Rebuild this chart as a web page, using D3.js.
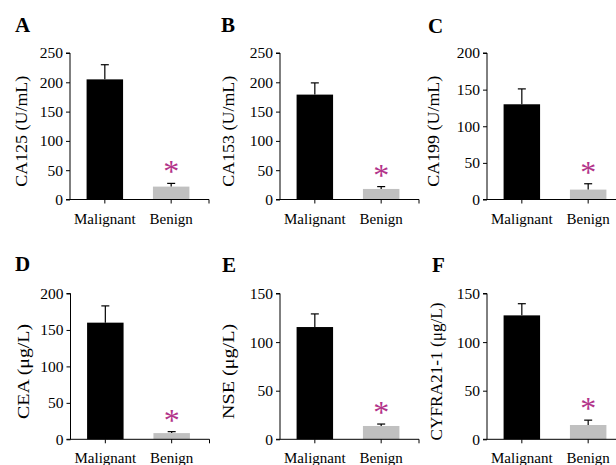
<!DOCTYPE html>
<html>
<head>
<meta charset="utf-8">
<script src="https://cdn.jsdelivr.net/npm/d3@7"></script>
<style>
	html, body { margin: 0; padding: 0; background: #fff; }
	svg text { font-family: "Liberation Serif", "Times New Roman", serif; fill: #000; }
</style>
</head>
<body>
<svg id="chart" width="616" height="465"></svg>
<script>
// chart values
var panelLetters = ["A", "B", "C", "D", "E", "F"];
var categories = ["Malignant", "Benign"];
var yTitles = ["CA125 (U/mL)", "CA153 (U/mL)", "CA199 (U/mL)", "CEA (\u03bcg/L)", "NSE (\u03bcg/L)", "CYFRA21-1 (\u03bcg/L)"];
var malignantMean = [205, 179, 130, 160, 115.5, 127.5];
var malignantErr = [25, 20, 21, 23, 13.5, 12];
var benignMean = [22, 18, 13.5, 8.5, 13.7, 14.7];
var benignErr = [5.5, 4, 8, 2, 2, 5];
var yMax = [250, 250, 200, 200, 150, 150];
var yTickStep = [50, 50, 50, 50, 50, 50];

// layout of the six panels
var axisX = [70, 280, 487, 70.5, 280, 487];
var rowZero = [199.5, 439.3];
var rowTop = [53, 293.5];
var titleLen = [111, 111, 111, 95, 95, 138];
var titleOff = [48, 51, 53, 47, 51, 50];
var letterX = [15, 221, 428, 15, 222, 432];
var letterY = [32, 32, 33, 271, 271.5, 272];

var svg = d3.select("#chart");

panelLetters.forEach(function (letter, i) {
	var row = i < 3 ? 0 : 1;
	var x0 = axisX[i];
	var g = svg.append("g");

	var y = d3.scaleLinear().domain([0, yMax[i]]).range([rowZero[row], rowTop[row]]);
	var x = d3.scaleBand().domain(categories).range([x0, x0 + 136])
		.paddingInner(0.45).paddingOuter(0.25);

	var means = [malignantMean[i], benignMean[i]];
	var errs = [malignantErr[i], benignErr[i]];
	var data = categories.map(function (c, k) { return {cat: c, v: means[k], e: errs[k]}; });

	// bars
	g.selectAll("rect.bar").data(data).enter().append("rect")
		.attr("class", "bar")
		.attr("x", function (d) { return x(d.cat); })
		.attr("width", x.bandwidth())
		.attr("y", function (d) { return y(d.v); })
		.attr("height", function (d) { return y(0) - y(d.v); })
		.style("fill", function (d, k) { return k == 0 ? "#000" : "#c0c0c0"; });

	// upper error bars only
	var eb = g.selectAll("g.err").data(data).enter().append("g").attr("class", "err");
	eb.append("line")
		.attr("x1", function (d) { return x(d.cat) + x.bandwidth() / 2; })
		.attr("x2", function (d) { return x(d.cat) + x.bandwidth() / 2; })
		.attr("y1", function (d) { return y(d.v); })
		.attr("y2", function (d) { return y(d.v + d.e); })
		.style("stroke", "#000").style("stroke-width", 1.2);
	eb.append("line")
		.attr("x1", function (d) { return x(d.cat) + x.bandwidth() / 2 - 4; })
		.attr("x2", function (d) { return x(d.cat) + x.bandwidth() / 2 + 4; })
		.attr("y1", function (d) { return y(d.v + d.e); })
		.attr("y2", function (d) { return y(d.v + d.e); })
		.style("stroke", "#000").style("stroke-width", 1.2);

	// y axis
	var yAxis = d3.axisLeft(y).tickValues(d3.range(0, yMax[i] + 1, yTickStep[i]))
		.tickSize(4).tickPadding(3).tickFormat(d3.format("d"));
	var ya = g.append("g").attr("transform", "translate(" + x0 + ",0)").call(yAxis);
	ya.select(".domain").attr("d", "M-4," + y(yMax[i]) + "H0V" + y(0));
	ya.selectAll("text").style("font-size", "15.5px").style("font-family", "'Liberation Serif', serif");

	// x axis: ticks under bar centres and at the right end
	var xEnd = x0 + 139;
	g.append("line").attr("x1", x0 - 4).attr("x2", xEnd)
		.attr("y1", y(0)).attr("y2", y(0))
		.style("stroke", "#000").style("stroke-width", 1);
	var tickXs = categories.map(function (c) { return x(c) + x.bandwidth() / 2; }).concat([xEnd]);
	g.selectAll("line.xt").data(tickXs).enter().append("line")
		.attr("class", "xt")
		.attr("x1", function (d) { return d; }).attr("x2", function (d) { return d; })
		.attr("y1", y(0)).attr("y2", y(0) + 4)
		.style("stroke", "#000").style("stroke-width", 1);
	g.selectAll("text.cat").data(categories).enter().append("text")
		.attr("class", "cat")
		.attr("x", function (c) { return x(c) + x.bandwidth() / 2; })
		.attr("y", y(0) + 24)
		.attr("text-anchor", "middle")
		.style("font-size", "15px")
		.text(function (c) { return c; });

	// y title
	var cy = (rowZero[row] + rowTop[row]) / 2 + 5;
	g.append("text")
		.attr("transform", "translate(" + (x0 - titleOff[i] + 5) + "," + cy + ") rotate(-90)")
		.attr("text-anchor", "middle")
		.attr("textLength", titleLen[i])
		.attr("lengthAdjust", "spacingAndGlyphs")
		.style("font-size", "17px")
		.text(yTitles[i]);

	// significance star over the benign bar
	var bx = x("Benign") + x.bandwidth() / 2;
	g.append("text")
		.attr("x", bx)
		.attr("y", y(benignMean[i] + benignErr[i]) - 17 + 16)
		.attr("text-anchor", "middle")
		.style("font-size", "32px")
		.style("fill", "#b3348a")
		.text("*");

	// panel letter
	g.append("text")
		.attr("x", letterX[i]).attr("y", letterY[i])
		.style("font-size", "21px").style("font-weight", "bold")
		.text(letter);
});
</script>
</body>
</html>
